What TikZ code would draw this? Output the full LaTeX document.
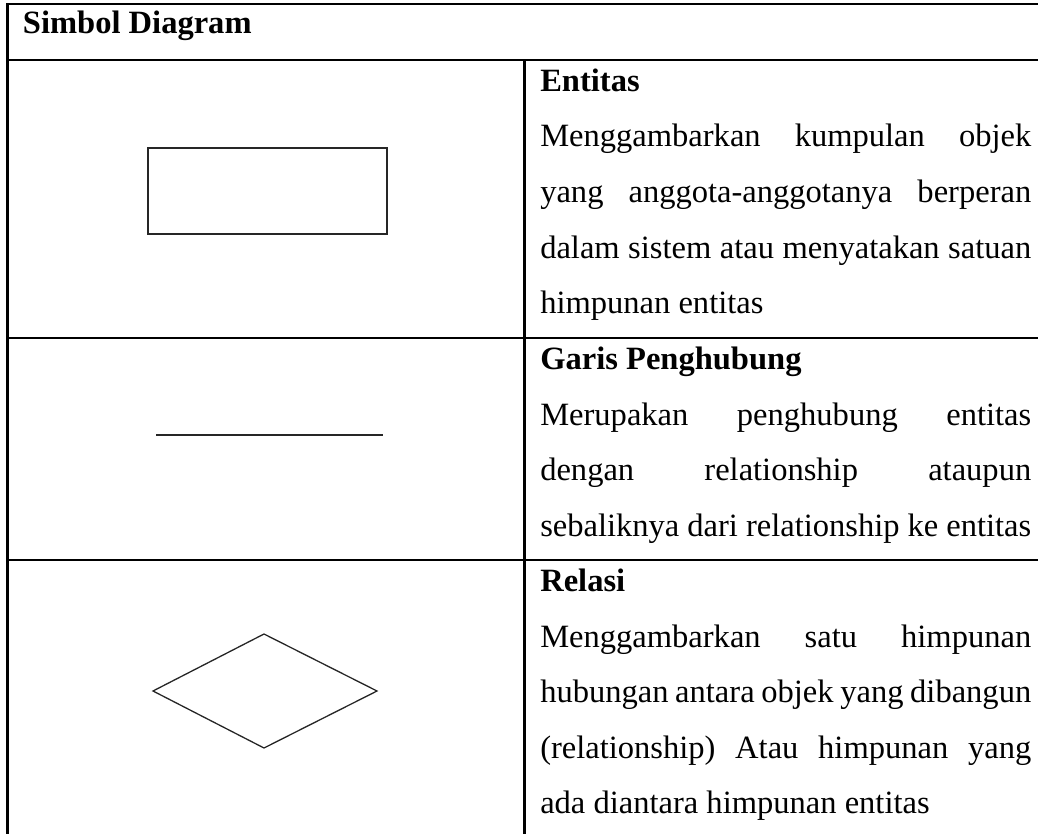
\documentclass[tikz,border=0pt]{standalone}
\usepackage{fontspec}
\setmainfont{Liberation Serif}
\newlength{\px}
\setlength{\px}{0.75pt}
\tikzset{
  grid line/.style={line width=2.6\px, black},
  txt/.style={anchor=base west, inner sep=0pt, font=\fontsize{24.4}{30}\selectfont},
  btxt/.style={txt, font=\fontsize{24.4}{30}\selectfont\bfseries},
  symline/.style={line width=2\px, black!85},
}
\newcommand{\jline}[1]{\hbox to 368.25pt{#1}}
\begin{document}
\begin{tikzpicture}[x=0.75pt, y=-0.75pt]
\useasboundingbox (0,0) rectangle (1038,834);
% table (cropped on the right and at the bottom)
\coordinate (tl) at (7.5,4);
\coordinate (tr) at (1040,4);
\coordinate (bl) at (7.5,836);
\draw[grid line] (bl) -- (tl) -- (tr);
\draw[grid line] (7.5,60) -- (1040,60);
\draw[grid line] (7.5,338) -- (1040,338);
\draw[grid line] (7.5,560) -- (1040,560);
\draw[grid line] (524.5,60) -- (524.5,836);
% header
\node[btxt] (hdr) at (22.7,34) {Simbol Diagram};
% row 1
\node[btxt] (e0) at (540,91.5) {Entitas};
\node[txt] (e1) at (540,147) {\jline{Menggambarkan\hfill kumpulan\hfill objek}};
\node[txt] (e2) at (540,202.5) {\jline{yang\hfill anggota-anggotanya\hfill berperan}};
\node[txt] (e3) at (540,258) {\jline{dalam\hfill sistem\hfill atau\hfill menyatakan\hfill satuan}};
\node[txt] (e4) at (540,313.5) {himpunan entitas};
% row 2
\node[btxt] (g0) at (540,369.5) {Garis Penghubung};
\node[txt] (g1) at (540,425) {\jline{Merupakan\hfill penghubung\hfill entitas}};
\node[txt] (g2) at (540,480.5) {\jline{dengan\hfill relationship\hfill ataupun}};
\node[txt] (g3) at (540,536) {\jline{sebaliknya\hfill dari\hfill relationship\hfill ke\hfill entitas}};
% row 3
\node[btxt] (r0) at (540,591.5) {Relasi};
\node[txt] (r1) at (540,647) {\jline{Menggambarkan\hfill satu\hfill himpunan}};
\node[txt] (r2) at (540,702.5) {\jline{hubungan\hfill antara\hfill objek\hfill yang\hfill dibangun}};
\node[txt] (r3) at (540,758) {\jline{(relationship)\hfill Atau\hfill himpunan\hfill yang}};
\node[txt] (r4) at (540,813.5) {ada diantara himpunan entitas};
% symbols
\draw[symline] (148,148) rectangle (387,234);
\coordinate (la) at (156,435);
\coordinate (lb) at (383,435);
\draw[symline] (la) -- (lb);
\draw[line width=1.3\px, black!85] (153,691) -- (264,634) -- (377,691) -- (264,748) -- cycle;
\end{tikzpicture}
\end{document}
